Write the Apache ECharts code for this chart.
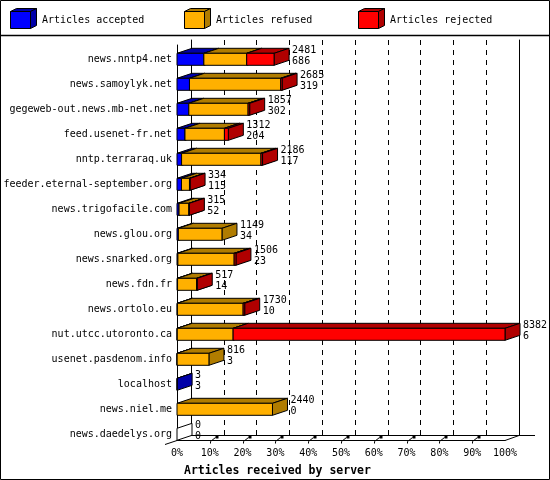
<!DOCTYPE html>
<html>
<head>
    <meta charset="utf-8">
    <title>Articles received by server</title>
    <script src="https://cdn.jsdelivr.net/npm/echarts@6/dist/echarts.min.js"></script>
    <style>
        html, body { margin: 0; padding: 0; background: #fff; }
        #main { width: 550px; height: 480px; }
    </style>
</head>
<body>
    <div id="main"></div>
    <script type="text/javascript">
        // servers, top to bottom
        var servers = [
            'news.nntp4.net', 'news.samoylyk.net', 'gegeweb-out.news.mb-net.net', 'feed.usenet-fr.net',
            'nntp.terraraq.uk', 'feeder.eternal-september.org', 'news.trigofacile.com', 'news.glou.org',
            'news.snarked.org', 'news.fdn.fr', 'news.ortolo.eu', 'nut.utcc.utoronto.ca',
            'usenet.pasdenom.info', 'localhost', 'news.niel.me', 'news.daedelys.org'
        ];
        var accepted = [686, 319, 302, 204, 117, 115, 52, 34, 23, 14, 10, 6, 3, 3, 0, 0];
        var refused  = [1095, 2331, 1515, 1008, 2029, 204, 253, 1115, 1438, 488, 1680, 1428, 813, 0, 2440, 0];
        var rejected = [700, 35, 40, 100, 40, 15, 10, 0, 45, 15, 40, 6948, 0, 0, 0, 0];
        var legendNames = ['Articles accepted', 'Articles refused', 'Articles rejected'];
        var frontColors = ['#0000ff', '#ffb000', '#ff0000'];
        var darkColors  = ['#0000a8', '#b07c00', '#b00000'];

        var FONT = 'DejaVu Sans Mono';
        var totals = servers.map(function (s, i) { return accepted[i] + refused[i] + rejected[i]; });
        var maxTotal = Math.max.apply(null, totals);
        function pct(v) { return v / maxTotal * 100; }

        // bar depth
        var DX = 15, DY = 5, BAR_H = 12;

        // segment data: [start%, end%, row]
        var segAcc = [], segRef = [], segRej = [];
        servers.forEach(function (s, i) {
            var a = accepted[i], r = refused[i], j = rejected[i];
            if (a > 0) segAcc.push([0, pct(a), i]);
            if (r > 0) segRef.push([pct(a), pct(a + r), i]);
            if (j > 0) segRej.push([pct(a + r), pct(a + r + j), i]);
        });
        var labelData = servers.map(function (s, i) { return [pct(totals[i]), i, totals[i], accepted[i]]; });

        function boxRender(front, dark) {
            return function (params, api) {
                var p0 = api.coord([api.value(0), api.value(2)]);
                var p1 = api.coord([api.value(1), api.value(2)]);
                var x0 = p0[0], x1 = p1[0];
                var yT = p0[1] - BAR_H / 2, yB = p0[1] + BAR_H / 2;
                var st = { stroke: '#000', lineWidth: 1 };
                return {
                    type: 'group',
                    children: [
                        { type: 'polygon', shape: { points: [[x0, yT], [x0 + DX, yT - DY], [x1 + DX, yT - DY], [x1, yT]] },
                          style: { fill: dark, stroke: '#000', lineWidth: 1 } },
                        { type: 'polygon', shape: { points: [[x1, yT], [x1 + DX, yT - DY], [x1 + DX, yB - DY], [x1, yB]] },
                          style: { fill: dark, stroke: '#000', lineWidth: 1 } },
                        { type: 'rect', shape: { x: x0, y: yT, width: x1 - x0, height: BAR_H },
                          style: { fill: front, stroke: '#000', lineWidth: 1 } }
                    ]
                };
            };
        }

        function labelRender(params, api) {
            var p = api.coord([api.value(0), api.value(1)]);
            var children = [
                { type: 'text', style: { x: p[0] + 18, y: p[1] - 9, text: String(api.value(2)), fill: '#000',
                    font: '10px ' + FONT, verticalAlign: 'middle' } },
                { type: 'text', style: { x: p[0] + 18, y: p[1] + 2, text: String(api.value(3)), fill: '#000',
                    font: '10px ' + FONT, verticalAlign: 'middle' } }
            ];
            if (api.value(2) === 0) {
                // empty box for a server with nothing received
                var yT = p[1] - BAR_H / 2, yB = p[1] + BAR_H / 2;
                children.unshift({ type: 'polygon',
                    shape: { points: [[p[0], yT], [p[0] + DX, yT - DY], [p[0] + DX, yB - DY], [p[0], yB]] },
                    style: { fill: '#fff', stroke: '#000', lineWidth: 1 } });
            }
            return { type: 'group', children: children };
        }

        // slanted ticks and floor edges on the front axis
        var tickPos = [10, 20, 30, 40, 50, 60, 70, 80, 90];
        function frameRender(params, api) {
            var v = api.value(0);
            var p = api.coord([v, 0]);
            var x = Math.round(p[0]) + 0.5, y = Math.round(p[1]) + 0.5;
            return {
                type: 'group',
                children: [
                    { type: 'polyline', shape: { points: [[x, y + 3], [x, y + 1], [x + 5, y - 3]] },
                      style: { stroke: '#000', lineWidth: 1, fill: null } },
                    { type: 'rect', shape: { x: x + 5, y: y - 5, width: 3, height: 3 }, style: { fill: '#000' } }
                ]
            };
        }
        function edgeRender(params, api) {
            var p0 = api.coord([0, 0]), p1 = api.coord([100, 0]);
            var y = Math.round(p0[1]) + 0.5;
            return {
                type: 'group',
                children: [
                    { type: 'line', shape: { x1: p0[0] - 12, y1: y + 4, x2: p0[0], y2: y }, style: { stroke: '#000', lineWidth: 1 } },
                    { type: 'polyline', shape: { points: [[p1[0], y], [p1[0] + 14, y - 5], [p1[0] + 30, y - 5]] },
                      style: { stroke: '#000', lineWidth: 1, fill: null } }
                ]
            };
        }

        // legend cubes
        var legendX = [10, 184, 358];
        var graphics = [
            { type: 'rect', shape: { x: 0.5, y: 0.5, width: 549, height: 479 }, style: { fill: null, stroke: '#000', lineWidth: 1 }, z: 100 },
            { type: 'line', shape: { x1: 0, y1: 35.5, x2: 550, y2: 35.5 }, style: { stroke: '#000', lineWidth: 1.5 }, z: 100 }
        ];
        legendNames.forEach(function (name, k) {
            var x = legendX[k] + 0.5, y = 11.5;
            graphics.push({ type: 'polygon', shape: { points: [[x, y], [x + 6, y - 3], [x + 26, y - 3], [x + 20, y]] },
                style: { fill: darkColors[k], stroke: '#000', lineWidth: 1 } });
            graphics.push({ type: 'polygon', shape: { points: [[x + 20, y], [x + 26, y - 3], [x + 26, y + 14], [x + 20, y + 17]] },
                style: { fill: darkColors[k], stroke: '#000', lineWidth: 1 } });
            graphics.push({ type: 'rect', shape: { x: x, y: y, width: 20, height: 17 },
                style: { fill: frontColors[k], stroke: '#000', lineWidth: 1 } });
            graphics.push({ type: 'text', style: { x: legendX[k] + 32, y: 20, text: name, fill: '#000',
                font: '10px ' + FONT, verticalAlign: 'middle' } });
        });

        var myChart = echarts.init(document.getElementById('main'), null, { renderer: 'canvas' });
        var option = {
            animation: false,
            backgroundColor: '#fff',
            title: {
                text: 'Articles received by server',
                left: 179, top: 460,
                textStyle: { fontFamily: FONT, fontSize: 11.5, fontWeight: 'bold', color: '#000' }
            },
            grid: [
                { left: 177, top: 46.8, width: 328, height: 400 },  // bars
                { left: 177, top: 45, width: 328, height: 395 },    // front wall
                { left: 191, top: 40, width: 328, height: 395 }     // back wall
            ],
            xAxis: [
                { gridIndex: 0, type: 'value', min: 0, max: 100, interval: 10, show: false },
                {
                    gridIndex: 1, type: 'value', min: 0, max: 100, interval: 10,
                    axisLine: { show: true, lineStyle: { color: '#000', width: 1 } },
                    axisTick: { show: false },
                    splitLine: { show: false },
                    axisLabel: { formatter: '{value}%', margin: 8, color: '#000', fontFamily: FONT, fontSize: 10 }
                },
                {
                    gridIndex: 2, type: 'value', min: 0, max: 100, interval: 10,
                    axisLine: { show: true, lineStyle: { color: '#000', width: 1 } },
                    axisTick: { show: false },
                    axisLabel: { show: false },
                    splitLine: { show: true, lineStyle: { color: '#000', type: [5, 5], width: 1 } }
                }
            ],
            yAxis: [
                {
                    gridIndex: 0, type: 'category', data: servers, inverse: true,
                    axisLine: { show: false }, axisTick: { show: false }, splitLine: { show: false },
                    axisLabel: { margin: 5, color: '#000', fontFamily: FONT, fontSize: 10 }
                },
                {
                    gridIndex: 1, type: 'value', min: 0, max: 1,
                    axisLine: { show: true, lineStyle: { color: '#000', width: 1 } },
                    axisTick: { show: false }, axisLabel: { show: false }, splitLine: { show: false }
                },
                {
                    gridIndex: 2, type: 'value', min: 0, max: 1,
                    axisLine: { show: true, lineStyle: { color: '#000', width: 1 } },
                    axisTick: { show: false }, axisLabel: { show: false }, splitLine: { show: false }
                },
                {
                    gridIndex: 2, type: 'value', min: 0, max: 1, position: 'right',
                    axisLine: { show: true, lineStyle: { color: '#000', width: 1 } },
                    axisTick: { show: false }, axisLabel: { show: false }, splitLine: { show: false }
                }
            ],
            series: [
                { name: legendNames[0], type: 'custom', xAxisIndex: 0, yAxisIndex: 0, data: segAcc,
                  renderItem: boxRender(frontColors[0], darkColors[0]), z: 3 },
                { name: legendNames[1], type: 'custom', xAxisIndex: 0, yAxisIndex: 0, data: segRef,
                  renderItem: boxRender(frontColors[1], darkColors[1]), z: 4 },
                { name: legendNames[2], type: 'custom', xAxisIndex: 0, yAxisIndex: 0, data: segRej,
                  renderItem: boxRender(frontColors[2], darkColors[2]), z: 5 },
                { name: 'labels', type: 'custom', xAxisIndex: 0, yAxisIndex: 0, data: labelData,
                  renderItem: labelRender, z: 6 },
                { name: 'ticks', type: 'custom', xAxisIndex: 1, yAxisIndex: 1, data: tickPos.map(function (t) { return [t]; }),
                  renderItem: frameRender, z: 2 },
                { name: 'edges', type: 'custom', xAxisIndex: 1, yAxisIndex: 1, data: [[0]],
                  renderItem: edgeRender, z: 2 }
            ],
            graphic: graphics
        };
        myChart.setOption(option);
    </script>
</body>
</html>
